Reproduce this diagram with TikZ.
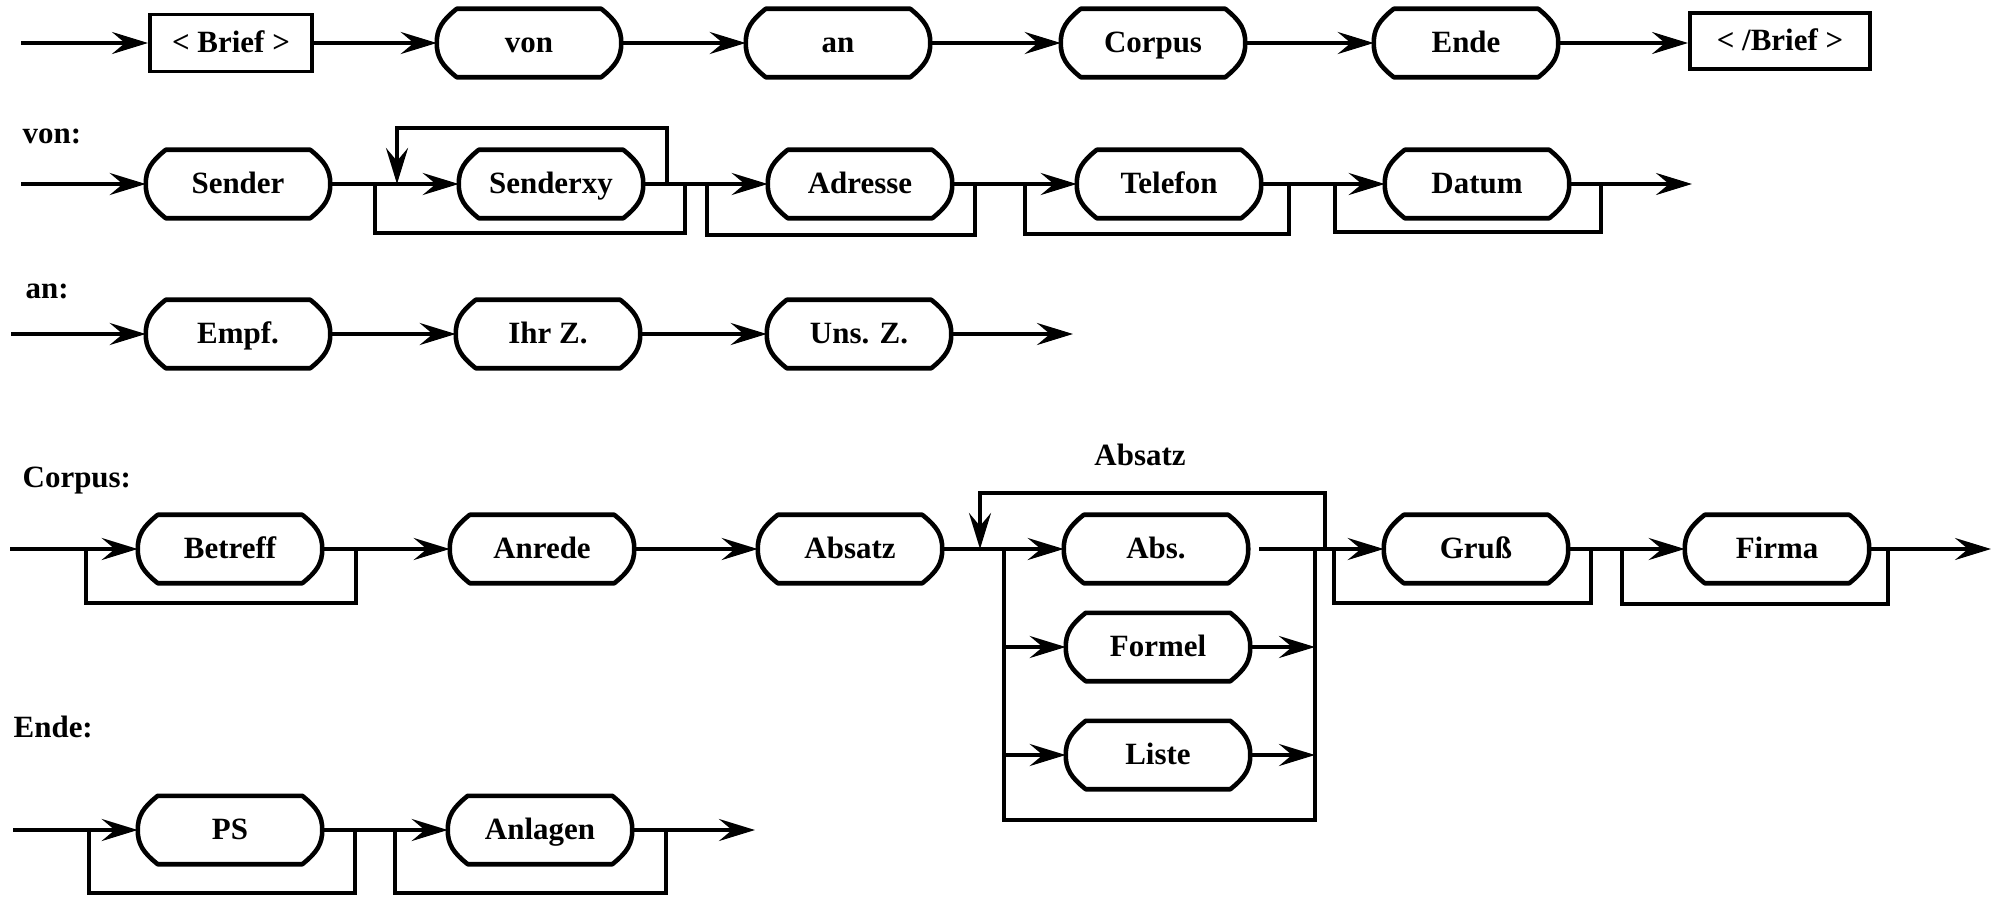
\documentclass[tikz,border=0pt]{standalone}
\usepackage{fontspec}
\setmainfont{Liberation Serif}
\usetikzlibrary{arrows.meta,calc}

\newcommand\lbl{\fontsize{8.8pt}{10pt}\selectfont\bfseries}

\tikzset{
  flow/.style={line width=1pt, -{Stealth[length=3.6mm,width=2.2mm,inset=1.3mm]}},
  wire/.style={line width=1pt},
  term/.style={minimum width=1.83cm, minimum height=0.67cm, inner sep=0pt, font=\lbl,
               text height=0.75em, text depth=0.22em},
  tag/.style={draw, line width=1.1pt, inner sep=0pt, font=\lbl,
              text height=0.75em, text depth=0.2em},
  heading/.style={anchor=base west, inner sep=0pt, font=\lbl},
  outline/.style={line width=1.3pt, line join=round},
}

\begin{document}
\begin{tikzpicture}[x=0.01cm, y=-0.01cm]
\useasboundingbox (0,0) rectangle (2003,897);

% ---------- Brief ----------
\coordinate (in1) at (21,43);
\node[tag, minimum width=1.62cm, minimum height=0.57cm] (brief) at (231,43) {< Brief >};
\node[term] (von) at (529,43) {von};
\node[term] (an) at (838,43) {an};
\node[term] (corpus) at (1153,43) {Corpus};
\node[term] (ende) at (1466,43) {Ende};
\node[tag, minimum width=1.80cm, minimum height=0.56cm] (ebrief) at (1780,41) {< /Brief >};

\draw[flow] (in1) -- (brief.west);
\draw[flow] (brief.east) -- (von.west);
\draw[flow] (von.east) -- (an.west);
\draw[flow] (an.east) -- (corpus.west);
\draw[flow] (corpus.east) -- (ende.west);
\draw[flow] (ende.east) -- (ende.east -| ebrief.west);

% ---------- von ----------
\node[heading] (hvon) at (22,143) {von:};
\coordinate (in2) at (21,184);
\node[term] (sender) at (238,184) {Sender};
\node[term] (senderxy) at (551,184) {Senderxy};
\node[term] (adresse) at (860,184) {Adresse};
\node[term] (telefon) at (1169,184) {Telefon};
\node[term] (datum) at (1477,184) {Datum};
\coordinate (out2) at (1692,184);

\draw[flow] (in2) -- (sender.west);
\draw[flow] (sender.east) -- (senderxy.west);
\draw[flow] (senderxy.east) -- (adresse.west);
\draw[flow] (adresse.east) -- (telefon.west);
\draw[flow] (telefon.east) -- (datum.west);
\draw[flow] (datum.east) -- (out2);

\coordinate (sxa) at (375,184);  \coordinate (sxb) at (685,184);
\coordinate (sxr) at (667,184);  \coordinate (sxl) at (397,184);
\coordinate (ada) at (707,184);  \coordinate (adb) at (975,184);
\coordinate (tea) at (1025,184); \coordinate (teb) at (1289,184);
\coordinate (daa) at (1335,184); \coordinate (dab) at (1601,184);
\draw[wire] (sxa) -- ++(0,49) -| (sxb);
\draw[flow] (sxr) -- ++(0,-56) -| (sxl);
\draw[wire] (ada) -- ++(0,51) -| (adb);
\draw[wire] (tea) -- ++(0,50) -| (teb);
\draw[wire] (daa) -- ++(0,48) -| (dab);

% ---------- an ----------
\node[heading] (han) at (25,298) {an:};
\coordinate (in3) at (11,334);
\node[term] (empf) at (238,334) {Empf.};
\node[term] (ihrz) at (548,334) {Ihr Z.};
\node[term] (unsz) at (859,334) {Uns. Z.};
\coordinate (out3) at (1073,334);

\draw[flow] (in3) -- (empf.west);
\draw[flow] (empf.east) -- (ihrz.west);
\draw[flow] (ihrz.east) -- (unsz.west);
\draw[flow] (unsz.east) -- (out3);

% ---------- Corpus ----------
\node[heading] (hcorpus) at (22,487) {Corpus:};
\node[anchor=base, inner sep=0pt, font=\lbl] (habsatz) at (1140,465) {Absatz};
\coordinate (in4) at (10,549);
\node[term] (betreff) at (230,549) {Betreff};
\node[term] (anrede) at (542,549) {Anrede};
\node[term] (absatz) at (850,549) {Absatz};
\node[term] (abs) at (1156,549) {Abs.};
\node[term] (formel) at (1158,647) {Formel};
\node[term] (liste) at (1158,755) {Liste};
\node[term] (gruss) at (1476,549) {Gruß};
\node[term] (firma) at (1777,549) {Firma};
\coordinate (out4) at (1991,549);

\draw[flow] (in4) -- (betreff.west);
\draw[flow] (betreff.east) -- (anrede.west);
\draw[flow] (anrede.east) -- (absatz.west);
\draw[flow] (absatz.east) -- (abs.west);

\coordinate (bea) at (86,549);   \coordinate (beb) at (356,549);
\draw[wire] (bea) -- ++(0,54) -| (beb);

% repetition of paragraphs
\coordinate (rpr) at (1325,549); \coordinate (rpl) at (980,549);
\draw[flow] (rpr) -- ++(0,-56) -| (rpl);

% alternatives Abs. / Formel / Liste
\coordinate (split) at (1004,549); \coordinate (merge) at (1315,549);
\draw[wire] (split) -- ++(0,271) -| (merge);
\draw[flow] (split |- formel) -- (formel.west);
\draw[flow] (formel.east) -- (merge |- formel);
\draw[flow] (split |- liste) -- (liste.west);
\draw[flow] (liste.east) -- (merge |- liste);

\coordinate (absout) at (1259,549);
\draw[flow] (absout) -- (gruss.west);
\draw[flow] (gruss.east) -- (firma.west);
\draw[flow] (firma.east) -- (out4);

\coordinate (gra) at (1334,549); \coordinate (grb) at (1591,549);
\coordinate (fia) at (1622,549); \coordinate (fib) at (1888,549);
\draw[wire] (gra) -- ++(0,54) -| (grb);
\draw[wire] (fia) -- ++(0,55) -| (fib);

% ---------- Ende ----------
\node[heading] (hende) at (13,737) {Ende:};
\coordinate (in5) at (13,830);
\node[term] (ps) at (230,830) {PS};
\node[term] (anlagen) at (540,830) {Anlagen};
\coordinate (out5) at (755,830);

\draw[flow] (in5) -- (ps.west);
\draw[flow] (ps.east) -- (anlagen.west);
\draw[flow] (anlagen.east) -- (out5);

\coordinate (psa) at (89,830);  \coordinate (psb) at (355,830);
\coordinate (ala) at (395,830); \coordinate (alb) at (666,830);
\draw[wire] (psa) -- ++(0,63) -| (psb);
\draw[wire] (ala) -- ++(0,63) -| (alb);

% ---------- outlines of the terminal symbols ----------
\foreach \n in {von,an,corpus,ende,sender,senderxy,adresse,telefon,datum,
                empf,ihrz,unsz,betreff,anrede,absatz,abs,formel,liste,gruss,firma,
                ps,anlagen} {
  \draw[outline]
    ($(\n.north west)+(0.2cm,0)$) -- ($(\n.north east)+(-0.2cm,0)$)
    .. controls ($(\n.north east)+(-0.05cm,-0.12cm)$) and ($(\n.east)+(0,0.14cm)$) .. (\n.east)
    .. controls ($(\n.east)+(0,-0.14cm)$) and ($(\n.south east)+(-0.05cm,0.12cm)$) .. ($(\n.south east)+(-0.2cm,0)$)
    -- ($(\n.south west)+(0.2cm,0)$)
    .. controls ($(\n.south west)+(0.05cm,0.12cm)$) and ($(\n.west)+(0,-0.14cm)$) .. (\n.west)
    .. controls ($(\n.west)+(0,0.14cm)$) and ($(\n.north west)+(0.05cm,-0.12cm)$) .. cycle;
}
\end{tikzpicture}
\end{document}
